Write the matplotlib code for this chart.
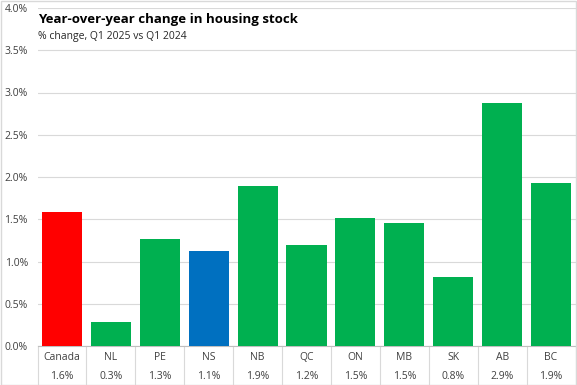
import matplotlib
matplotlib.use('Agg')
import matplotlib.pyplot as plt
import numpy as np

regions = ['Canada', 'NL', 'PE', 'NS', 'NB', 'QC', 'ON', 'MB', 'SK', 'AB', 'BC']
change = [1.59, 0.28, 1.27, 1.12, 1.89, 1.19, 1.51, 1.45, 0.82, 2.87, 1.93]
labels = ['1.6%', '0.3%', '1.3%', '1.1%', '1.9%', '1.2%', '1.5%', '1.5%', '0.8%', '2.9%', '1.9%']
colors = ['#FF0000', '#00B050', '#00B050', '#0070C0', '#00B050', '#00B050',
          '#00B050', '#00B050', '#00B050', '#00B050', '#00B050']

plt.rcParams['font.family'] = ['Open Sans', 'DejaVu Sans']

W, H = 577, 385
fig = plt.figure(figsize=(W / 100, H / 100), dpi=100)
ax = fig.add_axes([37.5 / W, (H - 346) / H, 538 / W, 338 / H])

x = np.arange(len(regions))
ax.bar(x, change, width=0.82, color=colors, zorder=3)
ax.set_xlim(-0.5, len(regions) - 0.5)
ax.set_ylim(0, 4.0)
ax.set_yticks(np.arange(0, 4.01, 0.5))
ax.set_yticklabels(['%.1f%%' % v for v in np.arange(0, 4.01, 0.5)], fontsize=7.5, color='#404040')
ax.set_xticks([])
ax.grid(axis='y', color='#D9D9D9', linewidth=0.8, zorder=0)
ax.tick_params(axis='y', length=0, pad=7)
for s in ['top', 'right', 'left']:
    ax.spines[s].set_visible(False)
ax.spines['bottom'].set_color('#BFBFBF')

# table under the axis
tr = ax.get_xaxis_transform()
for i, r in enumerate(regions):
    ax.text(i, -0.033, r, transform=tr, ha='center', va='center', fontsize=7.5, color='#404040')
    ax.text(i, -0.089, labels[i], transform=tr, ha='center', va='center', fontsize=7.5, color='#404040')
for i in range(len(regions) + 1):
    ax.plot([i - 0.5, i - 0.5], [0, -0.112], transform=tr, color='#D9D9D9', lw=0.8, clip_on=False)

fig.text(38 / W, 1 - 20 / H, 'Year-over-year change in housing stock', fontsize=9.5,
         fontweight='bold', va='center', color='black')
fig.text(38 / W, 1 - 36 / H, '% change, Q1 2025 vs Q1 2024', fontsize=7.5, va='center', color='#262626')

fig.patches.append(plt.Rectangle((0.001, 0.001), 0.998, 0.997, transform=fig.transFigure,
                                 fill=False, edgecolor='#D9D9D9', lw=1))

fig.savefig('out.png', dpi=100)
